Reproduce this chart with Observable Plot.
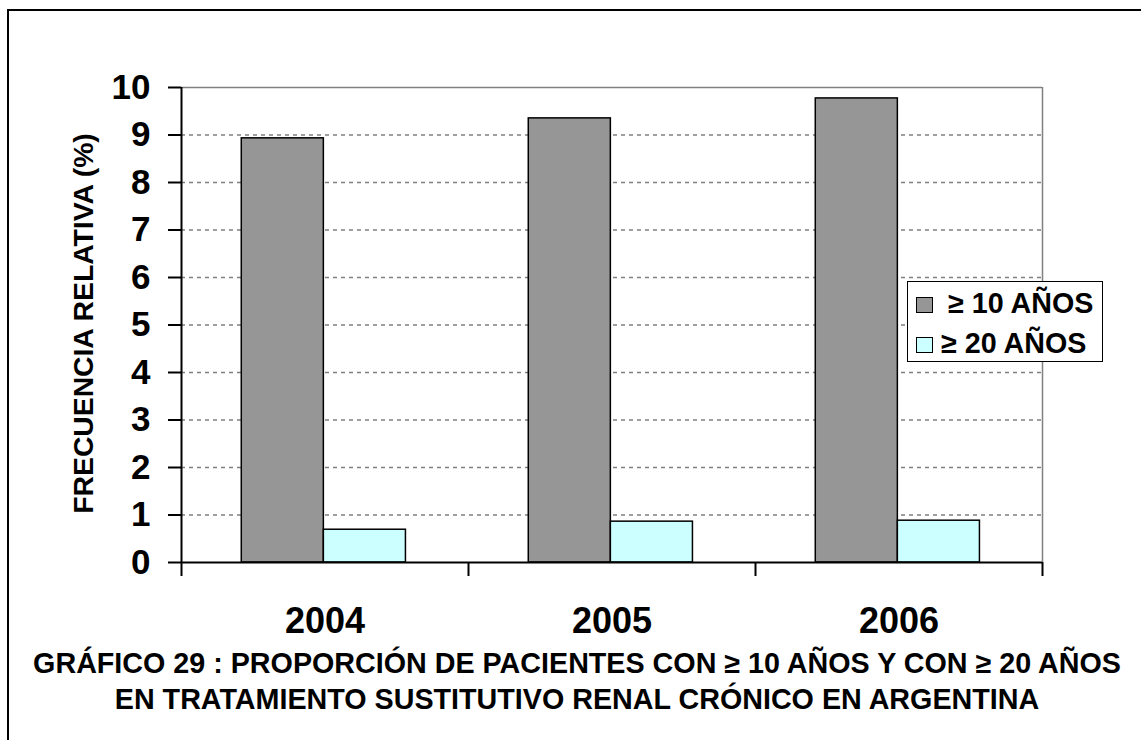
<!DOCTYPE html>
<html>
<head>
<meta charset="utf-8">
<script src="https://cdn.jsdelivr.net/npm/d3@7"></script>
<script src="https://cdn.jsdelivr.net/npm/@observablehq/plot@0.6"></script>
<style>
  html, body { margin: 0; padding: 0; background: #fff; }
  body { width: 1141px; height: 740px; overflow: hidden; font-family: "Liberation Sans", Arial, sans-serif; }
  #wrap { position: relative; width: 1141px; height: 740px; }
  #border { position: absolute; left: 7px; top: 9px; width: 1200px; height: 800px; border-left: 2px solid #000; border-top: 2px solid #000; box-sizing: border-box; }
  #chart { position: absolute; left: 0; top: 0; }
  #title { position: absolute; left: 13px; width: 1128px; top: 645px; text-align: center; font-weight: bold; font-size: 28.7px; line-height: 36px; color: #000; white-space: nowrap; }
  #legend { position: absolute; left: 907px; top: 281px; width: 196px; height: 81px; border: 1.5px solid #000; box-sizing: border-box; background: #fff; }
  .sw { position: absolute; width: 17px; height: 16px; border: 1px solid #000; box-sizing: border-box; }
  .lt { position: absolute; font-weight: bold; font-size: 28.7px; line-height: 28px; white-space: pre; color: #000; }
</style>
</head>
<body>
<div id="wrap">
  <div id="border"></div>
  <div id="chart"></div>
  <div id="legend"></div>
  <div id="title"></div>
</div>
<script>
// ---- data ----
const years = ["2004", "2005", "2006"];
const series = ["≥ 10 AÑOS", "≥ 20 AÑOS"];
const v10 = [8.93, 9.35, 9.77];
const v20 = [0.69, 0.86, 0.88];
const yTicks = [0, 1, 2, 3, 4, 5, 6, 7, 8, 9, 10];
const yLabel = "FRECUENCIA RELATIVA (%)";
const titleLines = [
  "GRÁFICO 29 : PROPORCIÓN DE PACIENTES CON ≥ 10 AÑOS Y CON ≥ 20 AÑOS",
  "EN TRATAMIENTO SUSTITUTIVO RENAL CRÓNICO EN ARGENTINA"
];
const colors = ["#969696", "#ccffff"];

// ---- table ----
const rows = [];
years.forEach((yr, i) => {
  rows.push({ year: yr, i, series: series[0], value: v10[i], k: 0 });
  rows.push({ year: yr, i, series: series[1], value: v20[i], k: 1 });
});
// layout within each category band (fraction of band)
const groupStart = 0.21, barW = 0.286;

const font = "Liberation Sans, Arial, sans-serif";
const chart = Plot.plot({
  width: 1141,
  height: 640,
  marginLeft: 181,
  marginRight: 99,
  marginTop: 87,
  marginBottom: 78,
  style: { fontFamily: font, background: "transparent", color: "#000" },
  x: { type: "linear", domain: [0, years.length], axis: null },
  y: { domain: [0, 10], axis: null },
  marks: [
    Plot.gridY(yTicks.filter(t => t > 0 && t < 10), { stroke: "#808080", strokeOpacity: 1, strokeWidth: 1.5, strokeDasharray: "4,4" }),
    Plot.ruleY([10], { stroke: "#808080", strokeWidth: 1.5 }),
    Plot.ruleX([years.length], { stroke: "#808080", strokeWidth: 1.5 }),
    Plot.rectY(rows, {
      x1: d => d.i + groupStart + d.k * barW,
      x2: d => d.i + groupStart + (d.k + 1) * barW,
      y1: 0,
      y2: "value",
      fill: d => colors[d.k],
      stroke: "#000",
      strokeWidth: 1.5
    }),
    Plot.ruleY([0], { stroke: "#000", strokeWidth: 2 }),
    Plot.ruleX([0], { stroke: "#000", strokeWidth: 2 }),
    Plot.axisY({ ticks: yTicks, tickSize: 13, tickPadding: 18, tickFormat: d => String(d), fontSize: 35, fontWeight: "bold", stroke: "#000", strokeWidth: 2, label: null }),
    Plot.axisX({ ticks: d3.range(years.length + 1), tickSize: 14, tickFormat: () => "", stroke: "#000", strokeWidth: 2, label: null }),
    Plot.axisX({ ticks: years.map((_, i) => i + 0.5), tickSize: 0, tickPadding: 45, tickFormat: d => years[Math.floor(d)], fontSize: 36, fontWeight: "bold", label: null }),
    Plot.text([yLabel], { text: d => d, frameAnchor: "left", textAnchor: "middle", lineAnchor: "middle", rotate: -90, dx: -98, dy: -1.5, fontSize: 28.3, fontWeight: "bold", fill: "#000" })
  ]
});
document.getElementById("chart").appendChild(chart);

// legend (positions relative to the legend box)
const lg = document.getElementById("legend");
const legendItems = [
  { label: series[0], color: colors[0], swTop: 14.5, txtLeft: 40, txtTop: 6.5 },
  { label: series[1], color: colors[1], swTop: 54.5, txtLeft: 33, txtTop: 46.5 }
];
legendItems.forEach(it => {
  const sw = document.createElement("div");
  sw.className = "sw";
  sw.style.left = "7.5px";
  sw.style.top = it.swTop + "px";
  sw.style.background = it.color;
  lg.appendChild(sw);
  const t = document.createElement("div");
  t.className = "lt";
  t.style.left = it.txtLeft + "px";
  t.style.top = it.txtTop + "px";
  t.textContent = it.label;
  lg.appendChild(t);
});

document.getElementById("title").innerHTML = titleLines.map(l => `<div>${l}</div>`).join("");
</script>
</body>
</html>
